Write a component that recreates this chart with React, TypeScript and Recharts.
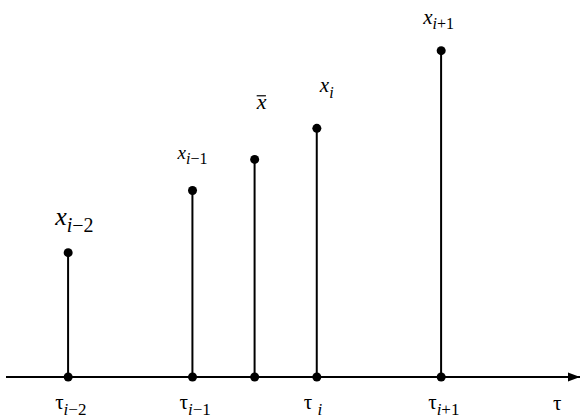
import {
  ComposedChart,
  Bar,
  Scatter,
  XAxis,
  YAxis,
  ReferenceDot,
} from 'recharts';

// stem positions on the tau axis (unit = spacing of the closest stems)
const tauPositions = [1, 3, 4, 5, 7];
const pointValues = [2, 3, 3.5, 4, 5.25];
const pointSubscripts = ['i−2', 'i−1', '', 'i', 'i+1'];
const tickSubscripts = ['i−2', 'i−1', null, 'i', 'i+1'];
const axisName = 'τ';

const X_MAX = 9.233;
const Y_MAX = 6;

const FONT = "'Liberation Serif', 'DejaVu Serif', serif";

// label placement relative to each dot: [dx, dy, main size, sub size]
const labelStyle = [
  [-13, -28, 26, 20],
  [-15, -32, 19, 16],
  [2, -50, 22, 16],
  [3, -36, 21, 16],
  [-18, -27, 21, 16],
];

const data = tauPositions.map((tau, i) => ({
  tau,
  value: pointValues[i],
  base: 0,
  idx: i,
}));

function Subscript({ text, size }: { text: string; size: number }) {
  // "i" italic, rest upright
  const rest = text.slice(1);
  return (
    <>
      <tspan dy={size * 0.35} fontSize={size} style={{ fontStyle: 'italic' }}>
        {text[0]}
      </tspan>
      {rest && (
        <tspan fontSize={size} style={{ fontStyle: 'normal' }}>
          {rest}
        </tspan>
      )}
    </>
  );
}

function TopPoint(props: any) {
  const { cx, cy, payload } = props;
  const i = payload.idx;
  const [dx, dy, size, subSize] = labelStyle[i];
  const sub = pointSubscripts[i];
  const lx = cx + dx;
  const ly = cy + dy;
  return (
    <g>
      <circle cx={cx} cy={cy} r={4.5} fill="#000" />
      <text
        x={lx}
        y={ly}
        fontSize={size}
        fill="#000"
        style={{ fontFamily: FONT, fontStyle: 'italic' }}
      >
        x{sub && <Subscript text={sub} size={subSize} />}
      </text>
      {i === 2 && (
        <line x1={lx} x2={lx + size * 0.42} y1={ly - size * 0.62} y2={ly - size * 0.62} stroke="#000" strokeWidth={1.2} />
      )}
    </g>
  );
}

function BaseDot(props: any) {
  const { cx, cy } = props;
  return <circle cx={cx} cy={cy} r={4.5} fill="#000" />;
}

function Arrow(props: any) {
  const { cx, cy } = props;
  return <path d={`M${cx},${cy} L${cx - 12},${cy - 4.5} L${cx - 12},${cy + 4.5} Z`} fill="#000" />;
}

function TauTick(props: any) {
  const { x, y, payload } = props;
  const i = tauPositions.indexOf(payload.value);
  const sub = tickSubscripts[i];
  if (!sub) return null;
  return (
    <text x={x - 13} y={y + 24} fontSize={21} fill="#000" style={{ fontFamily: FONT }}>
      τ{sub === 'i' ? ' ' : ''}
      <Subscript text={sub} size={17} />
    </text>
  );
}

function AxisName(props: any) {
  const { viewBox } = props;
  return (
    <text
      x={viewBox.x + viewBox.width - 27}
      y={viewBox.y + 33}
      fontSize={21}
      fill="#000"
      style={{ fontFamily: FONT }}
    >
      {axisName}
    </text>
  );
}

export default function App() {
  return (
    <div style={{ position: 'absolute', left: 0, top: 0, background: '#fff' }}>
      <ComposedChart
        width={586}
        height={420}
        data={data}
        margin={{ top: 4, right: 6, left: 6, bottom: 0 }}
      >
        <XAxis
          dataKey="tau"
          type="number"
          domain={[0, X_MAX]}
          ticks={tauPositions}
          interval={0}
          tick={<TauTick />}
          tickLine={false}
          axisLine={{ stroke: '#000', strokeWidth: 2 }}
          height={43}
          allowDataOverflow
          label={<AxisName />}
        />
        <YAxis hide type="number" domain={[0, Y_MAX]} />
        <Bar dataKey="value" barSize={2} fill="#000" isAnimationActive={false} />
        <Scatter dataKey="value" shape={<TopPoint />} isAnimationActive={false} />
        <Scatter dataKey="base" shape={<BaseDot />} isAnimationActive={false} />
        <ReferenceDot x={X_MAX} y={0} ifOverflow="visible" shape={<Arrow />} />
      </ComposedChart>
    </div>
  );
}
